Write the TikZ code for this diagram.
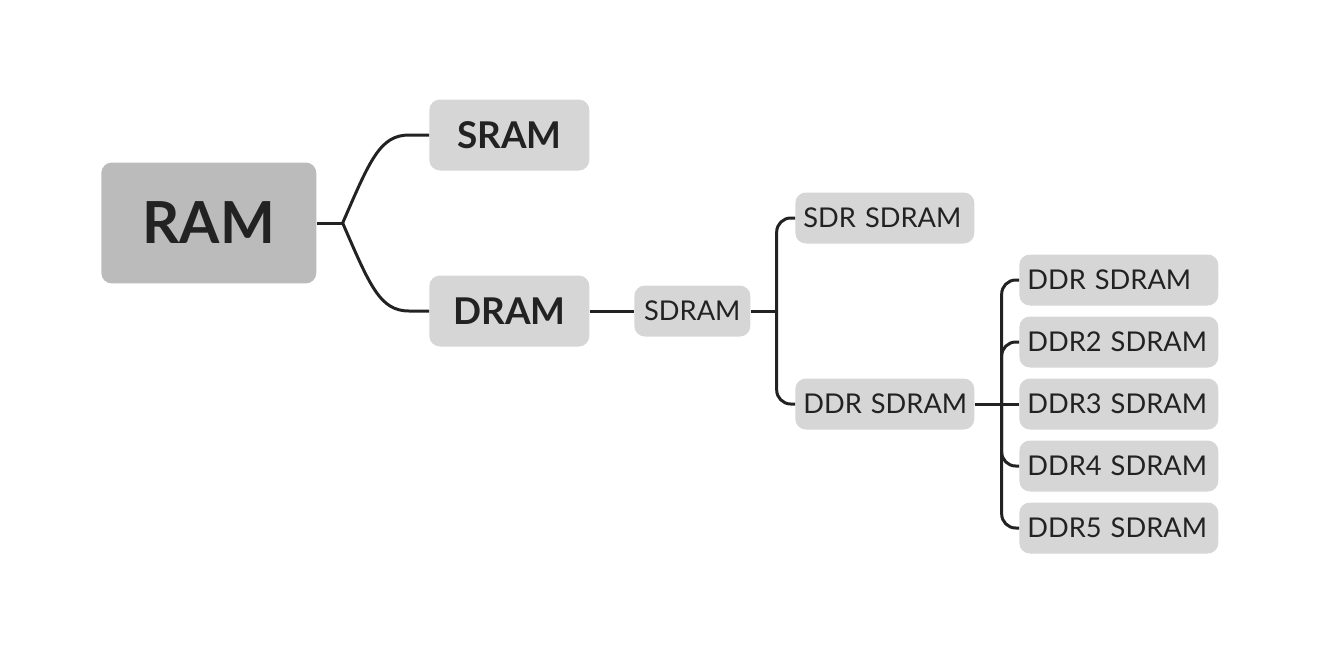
\documentclass[tikz,border=0pt]{standalone}
\usepackage{fontspec}
\setmainfont{Lato}
\definecolor{boxgray}{HTML}{D6D6D6}
\definecolor{rootgray}{HTML}{BBBBBB}
\definecolor{inkgray}{HTML}{222222}

\begin{document}
\begin{tikzpicture}[x=0.02cm, y=-0.02cm,
        topic/.style={fill=boxgray, rounded corners=6pt, text=inkgray, inner sep=0pt, anchor=west},
        leaf/.style={topic, minimum height=1.02cm, inner xsep=0.16cm, align=left, font=\fontsize{15.5}{18}\selectfont},
        branch/.style={draw=inkgray, line width=1.7pt}]
    \useasboundingbox (0, 0) rectangle (1320, 654);

    % root and main topics
    \node[topic, fill=rootgray, minimum width=4.3cm, minimum height=2.42cm,
        font=\fontsize{33}{38}\selectfont\bfseries] (ram) at (101, 223) {RAM};
    \node[topic, minimum width=3.2cm, minimum height=1.42cm,
        font=\fontsize{21}{25}\selectfont\bfseries] (sram) at (429, 135) {SRAM};
    \node[topic, minimum width=3.2cm, minimum height=1.42cm,
        font=\fontsize{21}{25}\selectfont\bfseries] (dram) at (429, 311) {DRAM};

    % subtopics
    \node[leaf, minimum width=2.32cm, align=center] (sdram) at (634, 311) {SDRAM};
    \node[leaf, text width=3.26cm] (sdr) at (795, 218) {\mbox{SDR SDRAM}};
    \node[leaf, text width=3.26cm] (ddr) at (795, 404) {\mbox{DDR SDRAM}};

    \node[leaf, text width=3.66cm] (ddr1) at (1019, 280) {\mbox{DDR SDRAM}};
    \node[leaf, text width=3.66cm] (ddr2) at (1019, 342) {\mbox{DDR2 SDRAM}};
    \node[leaf, text width=3.66cm] (ddr3) at (1019, 404) {\mbox{DDR3 SDRAM}};
    \node[leaf, text width=3.66cm] (ddr4) at (1019, 466) {\mbox{DDR4 SDRAM}};
    \node[leaf, text width=3.66cm] (ddr5) at (1019, 528) {\mbox{DDR5 SDRAM}};

    % connectors
    \draw[branch] (ram.east) -- ++(26, 0) coordinate (fork);
    \draw[branch] (fork) .. controls (370, 160) and (380, 135) .. ([xshift=-0.4cm]sram.west) -- (sram.west);
    \draw[branch] (fork) .. controls (370, 286) and (380, 311) .. ([xshift=-0.4cm]dram.west) -- (dram.west);
    \draw[branch] (dram.east) -- (sdram.west);

    \draw[branch] (sdram.east) -- ++(26, 0) coordinate (split);
    \draw[branch, rounded corners=8pt] (split) |- (sdr.west);
    \draw[branch, rounded corners=8pt] (split) |- (ddr.west);

    \draw[branch] (ddr.east) -- ++(27, 0) coordinate (rake);
    \foreach \n in {ddr1, ddr2, ddr4, ddr5}
        \draw[branch, rounded corners=8pt] (rake) |- (\n.west);
    \draw[branch] (rake) -- (ddr3.west);
\end{tikzpicture}
\end{document}
